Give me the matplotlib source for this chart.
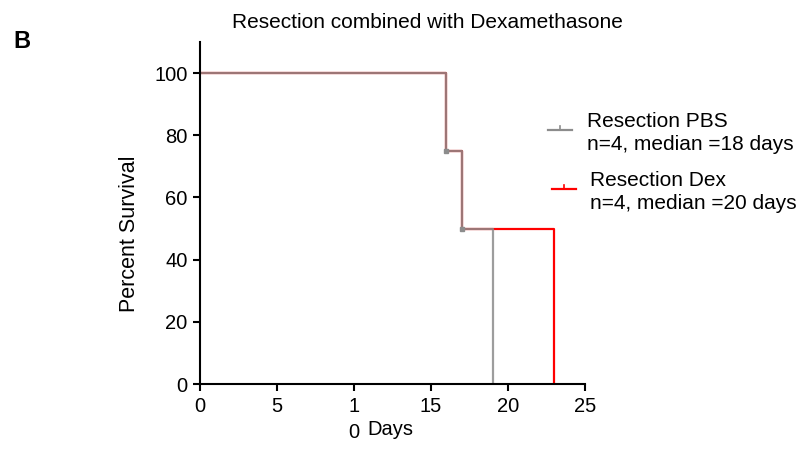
import matplotlib
matplotlib.use("Agg")
import matplotlib.pyplot as plt
from matplotlib.lines import Line2D

plt.rcParams['font.family'] = ['Liberation Sans', 'DejaVu Sans']

# Kaplan-Meier steps (day, percent survival)
pbs_days = [0, 16, 17, 19]
pbs_surv = [100, 75, 50, 0]
dex_days = [0, 16, 17, 23]
dex_surv = [100, 75, 50, 0]

x_ticks = [0, 5, 10, 15, 20, 25]
x_labels = ["0", "5", "1", "15", "20", "25"]
y_ticks = [0, 20, 40, 60, 80, 100]

legend_labels = ["Resection PBS\nn=4, median =18 days",
                 "Resection Dex\nn=4, median =20 days"]

GRAY = "#8c8c8c"
RED = "#ff0000"
FS = 15
TICK_FS = 14.5

fig = plt.figure(figsize=(8.06, 4.51), dpi=100)
ax = fig.add_axes([200 / 806, 1 - 384 / 451, 385 / 806, 342 / 451])

ax.plot(dex_days, dex_surv, drawstyle="steps-post", color=RED, lw=1.6)
ax.plot(pbs_days, pbs_surv, drawstyle="steps-post", color=GRAY, lw=1.6, alpha=0.85)
ax.plot(pbs_days[1:3], pbs_surv[1:3], "s", color=GRAY, ms=3)

ax.set_xlim(0, 25)
ax.set_ylim(0, 110)
ax.set_xticks(x_ticks)
ax.set_xticklabels(x_labels)
ax.set_yticks(y_ticks)
for s in ["top", "right"]:
    ax.spines[s].set_visible(False)
for s in ["left", "bottom"]:
    ax.spines[s].set_linewidth(1.5)
ax.tick_params(direction="out", length=5, width=1.5, labelsize=TICK_FS, pad=4)
ax.set_ylabel("Percent Survival", fontsize=15.5)
ax.yaxis.set_label_coords(-0.155, 0.44)

# split "10" label as in the original
ax.text(10, -0.115, "0", transform=ax.get_xaxis_transform(), fontsize=TICK_FS,
        ha="center", va="top")
ax.text(10.85, -0.105, "Days", transform=ax.get_xaxis_transform(), fontsize=TICK_FS,
        ha="left", va="top")

fig.text(427 / 806, 1 - 22 / 451, "Resection combined with Dexamethasone",
         fontsize=FS, ha="center", va="center")
fig.text(13 / 806, 1 - 41 / 451, "B", fontsize=17, fontweight="bold",
         ha="left", va="center")

# legend
for (x0, x1, y, tx, ty), col, lab in zip(
        [(548, 572, 130, 587, 133), (552, 576, 189, 590, 192)],
        [GRAY, RED], legend_labels):
    fy = 1 - y / 451
    fig.add_artist(Line2D([x0 / 806, x1 / 806], [fy, fy], color=col, lw=1.6))
    xm = (x0 + x1) / 2 / 806
    fig.add_artist(Line2D([xm, xm], [fy, fy + 4 / 451], color=col, lw=1.2))
    fig.text(tx / 806, 1 - ty / 451, lab, fontsize=FS, ha="left", va="center",
             linespacing=1.25)

fig.savefig("out.png", dpi=100)
